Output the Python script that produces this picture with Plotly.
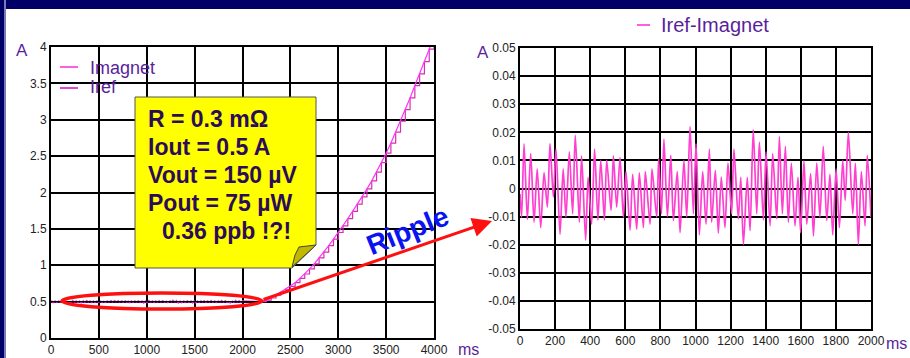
import plotly.graph_objects as go

W, H = 910, 358

# ---------------- data ----------------
# ramp of the magnet current (left chart), ms / A
ramp_t_ms = [2200, 2250, 2300, 2350, 2400, 2450, 2500, 2550, 2600, 2650, 2700, 2750,
             2800, 2850, 2900, 2950, 3000, 3050, 3100, 3150, 3200, 3250, 3300, 3350,
             3400, 3450, 3500, 3550, 3600, 3650, 3700, 3750, 3800, 3850, 3900, 3950, 4000]
ramp_current_a = [0.50, 0.52, 0.55, 0.59, 0.63, 0.67, 0.71, 0.76, 0.82, 0.88, 0.95, 1.02,
                  1.10, 1.18, 1.27, 1.36, 1.45, 1.54, 1.64, 1.74, 1.84, 1.94, 2.05, 2.16,
                  2.28, 2.41, 2.54, 2.68, 2.83, 2.98, 3.14, 3.30, 3.47, 3.63, 3.80, 3.97, 4.15]
flat_t_ms = [0]
flat_current_a = [0.5]

# ripple Iref-Imagnet (right chart), ms / A
ripple_t_ms = [0, 9, 23, 42, 61, 80, 98, 118, 137, 156, 171, 190, 205, 228, 246, 262,
               281, 300, 315, 338, 351, 374, 388, 408, 425, 444, 460, 481, 494, 519,
               532, 551, 570, 589, 604, 627, 642, 665, 680, 703, 714, 741, 752, 779,
               790, 806, 820, 840, 859, 874, 896, 912, 934, 950, 969, 988, 1003, 1022,
               1041, 1060, 1079, 1092, 1113, 1130, 1147, 1168, 1185, 1206, 1219, 1244,
               1258, 1273, 1295, 1311, 1329, 1349, 1364, 1387, 1402, 1425, 1440, 1463,
               1478, 1495, 1512, 1529, 1546, 1567, 1584, 1599, 1618, 1634, 1656, 1672,
               1691, 1709, 1728, 1748, 1766, 1782, 1801, 1820, 1839, 1853, 1871, 1896,
               1911, 1928, 1945, 1966, 1979, 2000]
ripple_a = [-0.002, -0.0102, 0.0159, -0.011, 0.0124, -0.012, 0.007, -0.0139, 0.0057, -0.0066,
            0.016, -0.003, 0.014, -0.0163, 0.007, -0.0102, 0.013, -0.009, 0.019, -0.012,
            0.0116, -0.0184, 0.004, -0.0127, 0.014, -0.0112, 0.010, -0.0112, 0.010, -0.0078,
            0.0116, -0.0066, 0.011, -0.0102, 0.006, -0.0148, 0.005, -0.0145, 0.0056, -0.0139,
            0.006, -0.0127, 0.007, -0.0102, 0.0106, -0.009, 0.0176, -0.010, 0.0118, -0.0114,
            0.006, -0.0157, 0.010, -0.0102, 0.022, -0.009, 0.016, -0.0165, 0.006, -0.0127,
            0.014, -0.012, 0.0065, -0.0159, 0.0041, -0.0139, 0.009, -0.009, 0.014, -0.0108,
            0.004, -0.0199, 0.004, -0.015, 0.021, -0.009, 0.0165, -0.0112, 0.013, -0.0133,
            0.0124, -0.0108, 0.0185, -0.009, 0.015, -0.012, 0.009, -0.0133, 0.004, -0.0157,
            0.0098, -0.0127, 0.0053, -0.0169, 0.009, -0.0102, 0.015, -0.0114, 0.005, -0.0165,
            0.007, -0.0139, 0.010, -0.0042, 0.020, -0.009, 0.009, -0.0199, 0.006, -0.0133,
            0.0118, -0.0102]
assert len(ripple_t_ms) == len(ripple_a)

left_x_ticks = [0, 500, 1000, 1500, 2000, 2500, 3000, 3500, 4000]
left_y_ticks = [0, 0.5, 1, 1.5, 2, 2.5, 3, 3.5, 4]
right_x_ticks = [0, 200, 400, 600, 800, 1000, 1200, 1400, 1600, 1800, 2000]
right_y_ticks = [-0.05, -0.04, -0.03, -0.02, -0.01, 0, 0.01, 0.02, 0.03, 0.04, 0.05]
right_y_labels = ["-0.05", "-0.04", "-0.03", "-0.02", "-0.01", "0",
                  "0.01", "0.02", "0.03", "0.04", "0.05"]

callout_lines = ["R = 0.3 m\u03a9", "Iout = 0.5 A", "Vout = 150 \u00b5V",
                 "Pout = 75 \u00b5W", "0.36 ppb !?!"]

# ---------------- styling helpers ----------------
def px(x):
    return x / W

def py(y):
    return 1 - y / H

FONT = "Arial, 'Liberation Sans', sans-serif"
PURPLE = "#5a1f9c"
TEXTDARK = "#2c0c58"
C_IMAG = "#ff33f5"
C_IREF = "#d62fb0"
C_RIP = "#ff3fd0"

fig = go.Figure()

# left chart traces
imag_x = ripple_t_ms + ramp_t_ms
imag_y = [0.5 - r for r in ripple_a] + ramp_current_a
fig.add_trace(go.Scatter(x=flat_t_ms + ramp_t_ms, y=flat_current_a + ramp_current_a,
                         mode="lines", line=dict(color=C_IREF, width=1.2, shape="hv"),
                         xaxis="x", yaxis="y", name="Iref", showlegend=False))
fig.add_trace(go.Scatter(x=imag_x, y=imag_y, mode="lines",
                         line=dict(color=C_IMAG, width=1.2),
                         xaxis="x", yaxis="y", name="Imagnet", showlegend=False))
# right chart
fig.add_trace(go.Scatter(x=ripple_t_ms, y=ripple_a, mode="lines",
                         line=dict(color=C_RIP, width=1.7, shape="spline", smoothing=0.8),
                         xaxis="x2", yaxis="y2", name="Iref-Imagnet", showlegend=False))

axis_common = dict(showgrid=True, gridcolor="black", gridwidth=1.6, showline=True,
                   linecolor="black", linewidth=2, mirror=True, ticks="",
                   zeroline=False, fixedrange=True, automargin=False,
                   tickfont=dict(family=FONT, size=12, color="#222"))

fig.update_layout(
    width=W, height=H, autosize=False,
    margin=dict(l=0, r=0, t=0, b=0),
    paper_bgcolor="white", plot_bgcolor="white",
    xaxis=dict(domain=[px(51), px(434)], range=[0, 4000], tickvals=left_x_ticks,
               anchor="y", **axis_common),
    yaxis=dict(domain=[py(338), py(47)], range=[0, 4], tickvals=left_y_ticks,
               anchor="x", **axis_common),
    xaxis2=dict(domain=[px(520), px(871)], range=[0, 2000], tickvals=right_x_ticks,
                anchor="y2", **axis_common),
    yaxis2=dict(domain=[py(329), py(48)], range=[-0.05, 0.05], tickvals=right_y_ticks,
                ticktext=right_y_labels, anchor="x2", ticklabelstandoff=0, **axis_common),
)

shapes = []
# frame
shapes.append(dict(type="rect", xref="paper", yref="paper", x0=0, x1=1, y0=py(9), y1=1,
                   fillcolor="#000066", line=dict(width=0), layer="above"))
shapes.append(dict(type="rect", xref="paper", yref="paper", x0=0, x1=px(4), y0=0, y1=1,
                   fillcolor="#000066", line=dict(width=0), layer="above"))
shapes.append(dict(type="rect", xref="paper", yref="paper", x0=px(4), x1=px(6), y0=0, y1=1,
                   fillcolor="#7a7ab8", line=dict(width=0), layer="above"))
# grid line at 0.5 kept visible above the noisy trace
shapes.append(dict(type="line", xref="x", yref="y", x0=0, x1=2200, y0=0.5, y1=0.5,
                   line=dict(color="black", width=1.4), layer="above"))
# legend samples
shapes.append(dict(type="line", xref="paper", yref="paper", x0=px(60), x1=px(78),
                   y0=py(67), y1=py(67), line=dict(color="#ff5ee0", width=2)))
shapes.append(dict(type="line", xref="paper", yref="paper", x0=px(60), x1=px(78),
                   y0=py(88), y1=py(88), line=dict(color="#e546c8", width=2)))
shapes.append(dict(type="line", xref="paper", yref="paper", x0=px(637), x1=px(650),
                   y0=py(25), y1=py(25), line=dict(color="#ff5ee0", width=2)))
# callout box with folded corner
box = [(135, 97), (316, 97), (316, 245), (292, 268), (135, 268)]
path = "M " + " L ".join(f"{px(x)},{py(y)}" for x, y in box) + " Z"
shapes.append(dict(type="path", xref="paper", yref="paper", path=path,
                   fillcolor="#ffff00", line=dict(color="#555555", width=1)))
curl = [(292, 267), (295, 255), (299, 247), (316, 245)]
path2 = "M " + " L ".join(f"{px(x)},{py(y)}" for x, y in curl) + " Z"
shapes.append(dict(type="path", xref="paper", yref="paper", path=path2,
                   fillcolor="#c2b800", line=dict(color="#444444", width=1)))
# red ellipse
shapes.append(dict(type="circle", xref="paper", yref="paper", x0=px(62), x1=px(262),
                   y0=py(309), y1=py(293), line=dict(color="#ff1010", width=3.5)))
fig.update_layout(shapes=shapes)

ann = []
ann.append(dict(x=px(88), y=py(68), text="Imagnet", xanchor="left", yanchor="middle",
                font=dict(family=FONT, size=18, color=PURPLE)))
ann.append(dict(x=px(88), y=py(87), text="Iref", xanchor="left", yanchor="middle",
                font=dict(family=FONT, size=18, color=PURPLE)))
ann.append(dict(x=px(659), y=py(25), text="Iref-Imagnet", xanchor="left", yanchor="middle",
                font=dict(family=FONT, size=20, color=PURPLE)))
ann.append(dict(x=px(22), y=py(50), text="A", xanchor="center", yanchor="middle",
                font=dict(family=FONT, size=17, color=PURPLE)))
ann.append(dict(x=px(483), y=py(53), text="A", xanchor="center", yanchor="middle",
                font=dict(family=FONT, size=17, color=PURPLE)))
ann.append(dict(x=px(456), y=py(349), text="ms", xanchor="left", yanchor="middle",
                font=dict(family=FONT, size=16, color=PURPLE)))
ann.append(dict(x=px(909), y=py(343), text="ms", xanchor="right", yanchor="middle",
                font=dict(family=FONT, size=16, color=PURPLE)))
line_y = [119, 147, 175, 203, 231]
line_x = [146, 146, 146, 146, 160]
for t, xx, yy in zip(callout_lines, line_x, line_y):
    ann.append(dict(x=px(xx), y=py(yy), text=f"<b>{t}</b>", xanchor="left", yanchor="middle",
                    font=dict(family=FONT, size=23, color=TEXTDARK)))
ann.append(dict(x=px(408), y=py(231), text="<b>Ripple</b>", textangle=-22,
                xanchor="center", yanchor="middle",
                font=dict(family=FONT, size=28, color="#0a14f0")))
ann.append(dict(x=px(492), y=py(221), ax=-230, ay=79, text="", showarrow=True,
                arrowhead=2, arrowsize=1.3, arrowwidth=3, arrowcolor="#ff1010",
                standoff=0, startstandoff=0))
for a in ann:
    a.setdefault("showarrow", False)
    a["xref"] = "paper"
    a["yref"] = "paper"
fig.update_layout(annotations=ann)

fig.write_html("out.html", include_plotlyjs=True, config={"displayModeBar": False},
               post_script="document.documentElement.style.margin='0';"
                           "document.body.style.margin='0';document.body.style.padding='0';")
